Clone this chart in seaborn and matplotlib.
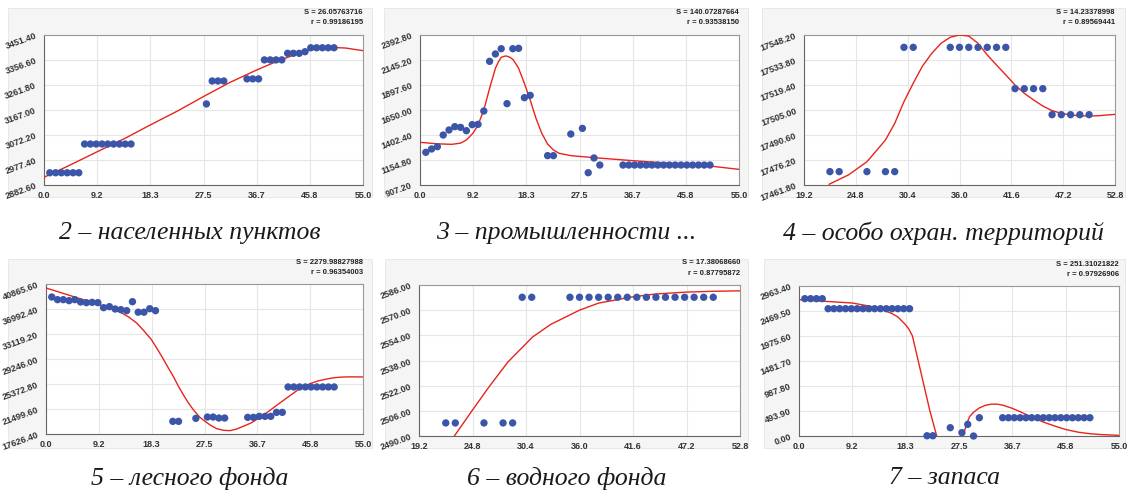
import numpy as np
import matplotlib
matplotlib.use("Agg")
import matplotlib.pyplot as plt
import seaborn as sns
from matplotlib.patches import Rectangle
from matplotlib.ticker import AutoMinorLocator, FormatStrFormatter

sns.set_style("white")
plt.rcParams["font.family"] = ["Liberation Sans", "DejaVu Sans"]

W, H = 1128, 494

# --- panel 2: населенных пунктов
x1 = list(range(1, 7)) + list(range(7, 16)) + [28, 29, 30, 31, 35, 36, 37, 38, 39, 40, 41, 42, 43, 44, 45, 46, 47, 48, 49, 50]
y1 = [2929] * 6 + [3038] * 9 + [3190, 3277, 3277, 3277, 3285, 3285, 3285,
                                 3357, 3357, 3357, 3357, 3382, 3382, 3382, 3388,
                                 3403, 3403, 3403, 3403, 3403]
cx1 = [0, 4, 9.2, 14, 18.3, 23, 27.5, 32, 36.7, 40, 43, 45.8, 48, 50, 52, 55]
cy1 = [2912, 2953, 3009, 3060, 3110, 3163, 3218, 3271, 3319, 3350, 3375, 3394, 3402, 3404, 3402, 3392]

# --- panel 3: промышленности
x2 = list(range(1, 20)) + [22, 23, 26, 28, 29, 30, 31] + list(range(35, 51))
y2 = [1231, 1264, 1287, 1402, 1452, 1485, 1478, 1445, 1505, 1508, 1640, 2132, 2205, 2257,
      1713, 2257, 2261, 1772, 1795, 1198, 1198, 1412, 1468, 1029, 1175, 1105] + [1105] * 16
cx2 = [0, 3, 5.5, 7, 8, 9.2, 10, 11, 12, 13, 13.5, 14, 14.5, 14.9, 15.5, 16, 16.5, 17, 18, 19,
       20, 21, 22, 23, 24, 26, 28, 30, 36.7, 45.8, 50, 55]
cy2 = [1330, 1315, 1310, 1322, 1353, 1425, 1501, 1650, 1864, 2063, 2125, 2171, 2182, 2185, 2172,
       2152, 2110, 2063, 1914, 1749, 1567, 1419, 1313, 1254, 1221, 1198, 1188, 1178, 1148, 1112,
       1095, 1062]

# --- panel 4: особо охран. территорий
x3 = [22, 23, 26, 28, 29, 30, 31] + list(range(35, 51))
y3 = [17469.5] * 5 + [17541.1] * 9 + [17517.3] * 4 + [17502.3] * 5
cx3 = [21.9, 24, 26, 28, 29, 30, 31, 32, 33, 34, 35, 36, 37, 38, 39, 40, 41, 42, 43, 44, 45,
       46, 47, 48, 49, 50, 51, 52.8]
cy3 = [17462.2, 17467.6, 17475.2, 17487.7, 17497.3, 17509.8, 17520.4, 17530.3, 17537.6,
       17543.4, 17546.9, 17548.2, 17547.6, 17543.4, 17536.7, 17530.9, 17525.2, 17519.4,
       17514.6, 17510.8, 17507.3, 17504.6, 17503.1, 17502.1, 17501.7, 17501.5, 17501.7, 17502.5]

# --- panel 5: лесного фонда
x4 = list(range(1, 20)) + [22, 23, 26, 28, 29, 30, 31, 35, 36, 37, 38, 39, 40, 41] + list(range(42, 51))
y4 = [38852, 38438, 38438, 38283, 38438, 38077, 37974, 38025, 37974, 37199, 37354, 36992,
      36889, 36734, 38128, 36500, 36500, 37040, 36734,
      19585, 19585, 20050, 20256, 20256, 20101, 20101, 20204, 20204, 20359, 20359, 20359,
      20979, 20979] + [24914] * 9
cx4 = [0, 4.6, 9.2, 11, 12.84, 14.3, 15.73, 17, 18.3, 19.3, 20.35, 21.2, 22.09, 22.9, 23.82,
       24.7, 25.56, 26.6, 27.6, 28.6, 29.61, 30.8, 31.92, 33, 34.23, 35.5, 36.7, 37.8, 38.86,
       40.3, 41.76, 43, 44.07, 45.8, 47.2, 48.7, 50, 51.58, 53, 55]
cy4 = [40246, 38960, 37659, 37120, 36527, 35780, 34823, 33600, 32236, 30800, 29246, 27900,
       26550, 25150, 23716, 22450, 21392, 20300, 19585, 18950, 18454, 18200, 18144, 18380,
       18816, 19300, 19963, 20600, 21288, 22250, 23202, 24000, 24697, 25424, 25850, 26152,
       26350, 26461, 26480, 26461]

# --- panel 6: водного фонда
x5 = [22, 23, 26, 28, 29, 30, 31] + list(range(35, 51))
y5 = [2498.3] * 5 + [2578.2] * 18
cx5 = [22.9, 24.8, 26.5, 28.5, 31.1, 33, 36, 38, 41.6, 44, 47.2, 50, 52.8]
cy5 = [2490, 2506.5, 2521, 2537, 2553, 2561, 2570, 2574.5, 2578.5, 2580.3, 2581.5, 2582, 2582.3]

# --- panel 7: запаса
x6 = list(range(1, 20)) + [22, 23, 26, 28, 29, 30, 31] + list(range(35, 51))
y6 = [2713] * 4 + [2515] * 15 + [5, 5, 164, 66, 230, 0, 361] + [361] * 16
cx6 = [0, 9.2, 12, 14, 16, 17, 18.3, 18.9, 19.5, 20.5, 21.5, 22.5, 23.67, 24.5, 26, 27.5,
       28.2, 28.7, 29.3, 30, 31, 32, 33, 34, 35, 36.7, 38, 40, 42, 44, 45.8, 48, 50, 52, 55]
cy6 = [2693, 2627, 2568, 2515, 2417, 2351, 2200, 2110, 1976, 1482, 988, 494, 0, -600, -1000,
       -500, 0, 200, 380, 470, 555, 605, 628, 630, 610, 545, 480, 375, 275, 195, 130, 75, 45,
       28, 13]

stats = [("26.05763716", "0.99186195"), ("140.07287664", "0.93538150"),
         ("14.23378998", "0.89569441"), ("2279.98827988", "0.96354003"),
         ("17.38068660", "0.87795872"), ("251.31021822", "0.97926906")]
captions = ["2 – населенных пунктов", "3 – промышленности ...", "4 – особо охран. территорий",
            "5 – лесного фонда", "6 – водного фонда", "7 – запаса"]
xlims = [(0, 55), (0, 55), (19.2, 52.8), (0, 55), (19.2, 52.8), (0, 55)]
ylims = [(2882.6, 3451.4), (907.2, 2392.8), (17461.8, 17548.2),
         (17626.4, 40865.6), (2490.0, 2586.0), (0.0, 2963.4)]

# pixel boxes: gray panel, plot area
bg_boxes = [(8, 8, 372, 197), (384, 8, 748, 197), (762, 8, 1125, 197),
            (8, 259, 372, 448), (385, 259, 748, 448), (764, 259, 1125, 448)]
ax_boxes = [(44, 35, 363, 185), (420, 35, 739, 185), (804, 35, 1115, 185),
            (46, 284, 363, 434), (419, 285, 740, 436), (799, 286, 1119, 436)]
cap_y = [233, 233, 233, 478, 478, 478]

data = [(x1, y1, cx1, cy1), (x2, y2, cx2, cy2), (x3, y3, cx3, cy3),
        (x4, y4, cx4, cy4), (x5, y5, cx5, cy5), (x6, y6, cx6, cy6)]

fig = plt.figure(figsize=(W / 100, H / 100), dpi=100)
fig.patch.set_facecolor("white")

for i in range(6):
    bx0, by0, bx1, by1 = bg_boxes[i]
    fig.add_artist(Rectangle((bx0 / W, 1 - by1 / H), (bx1 - bx0) / W, (by1 - by0) / H,
                             transform=fig.transFigure, facecolor="#f4f5f4",
                             edgecolor="#e4e6e4", linewidth=0.6, zorder=0))
    x0, y0, x1_, y1_ = ax_boxes[i]
    ax = fig.add_axes([x0 / W, 1 - y1_ / H, (x1_ - x0) / W, (y1_ - y0) / H])
    ax.set_facecolor("white")
    px, py, qx, qy = data[i]

    sns.lineplot(x=qx, y=qy, ax=ax, color="#e8241c", linewidth=1.0, sort=False,
                 estimator=None, zorder=3)
    sns.scatterplot(x=px, y=py, ax=ax, color="#3b55a8", s=28, edgecolor="none",
                    zorder=4, clip_on=False)

    xmin, xmax = xlims[i]
    ymin, ymax = ylims[i]
    ax.set_xlim(xmin, xmax)
    ax.set_ylim(ymin, ymax)
    ax.set_xticks(np.linspace(xmin, xmax, 7))
    ax.set_yticks(np.linspace(ymin, ymax, 7))
    ax.xaxis.set_major_formatter(FormatStrFormatter("%.1f"))
    ax.yaxis.set_major_formatter(FormatStrFormatter("%.2f"))
    ax.xaxis.set_minor_locator(AutoMinorLocator(4))
    ax.yaxis.set_minor_locator(AutoMinorLocator(5))
    ax.grid(True, which="major", color="#e6e6e6", linewidth=0.8)
    ax.set_axisbelow(True)
    ax.tick_params(axis="both", which="major", length=3, width=0.7, color="#666",
                   labelsize=6.5, labelcolor="#333", pad=1.5)
    ax.tick_params(axis="both", which="minor", length=2, width=0.6, color="#666")
    for lab in ax.get_xticklabels() + ax.get_yticklabels():
        lab.set_fontweight("bold")
    for lab in ax.get_yticklabels():
        lab.set_rotation(20)
    for s in ax.spines.values():
        s.set_color("#999")
        s.set_linewidth(0.8)
    ax.spines["left"].set_color("#666")
    ax.spines["bottom"].set_color("#666")
    ax.set_xlabel("")
    ax.set_ylabel("")

    S, r = stats[i]
    fig.text(x1_ / W, 1 - (y0 - 22) / H, f"S = {S}", ha="right", va="center",
             fontsize=5.5, fontweight="bold", color="#222")
    fig.text(x1_ / W, 1 - (y0 - 12) / H, f"r = {r}", ha="right", va="center",
             fontsize=5.5, fontweight="bold", color="#222")

    fig.text((bx0 + bx1) / 2 / W, 1 - cap_y[i] / H, captions[i], ha="center", va="center",
             fontsize=18.5, style="italic", family=["Liberation Serif", "DejaVu Serif"],
             color="#1a1a1a")

fig.savefig("out.png", dpi=100)
